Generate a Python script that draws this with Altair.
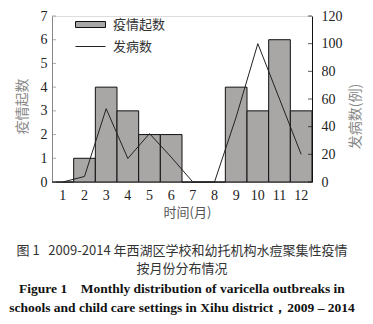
import altair as alt
import pandas as pd

months = list(range(1, 13))
outbreaks = [0, 1, 4, 3, 2, 2, 0, 0, 4, 3, 6, 3]
cases = [0, 4, 53, 17, 35, 18, 0, 0, 47, 100, 60, 20]
left_ticks = [0, 1, 2, 3, 4, 5, 6, 7]
right_ticks = [0, 20, 40, 60, 80, 100, 120]

df = pd.DataFrame({"month": months, "outbreaks": outbreaks, "cases": cases})
lt = pd.DataFrame({"v": left_ticks})
rt = pd.DataFrame({"v": right_ticks})

SERIF = "Liberation Serif"
CJK = "Noto Sans CJK SC"

xenc = alt.X("month:O", sort=months,
             scale=alt.Scale(paddingInner=0, paddingOuter=0),
             axis=alt.Axis(title="时间(月)", labelAngle=0, ticks=False,
                           labelFont=SERIF, labelFontSize=14, labelColor="#222",
                           labelPadding=6, domainColor="#999",
                           titleFont=CJK, titleFontSize=13, titleFontWeight="normal",
                           titleColor="#555", titlePadding=4, titleX=135))

left_axis = alt.Axis(title="疫情起数", values=left_ticks, ticks=False, grid=False,
                     labelFont=SERIF, labelFontSize=14, labelColor="#222",
                     labelPadding=5, domainColor="#888",
                     titleFont=CJK, titleFontSize=14, titleFontWeight="normal",
                     titleColor="#888", titleAngle=270, titleAlign="center",
                     titleBaseline="middle", titleX=-30, titleY=90)
right_axis = alt.Axis(title="发病数(例)", values=right_ticks, ticks=False, grid=False,
                      orient="right",
                      labelFont=SERIF, labelFontSize=14, labelColor="#222",
                      labelPadding=9, domainColor="#111",
                      titleFont=CJK, titleFontSize=14, titleFontWeight="normal",
                      titleColor="#888", titleAngle=270, titleAlign="center",
                      titleBaseline="middle", titleX=43, titleY=100)
left_scale = alt.Scale(domain=[0, 7], nice=False)
right_scale = alt.Scale(domain=[0, 120], nice=False)

bars = alt.Chart(df).transform_calculate(s="'疫情起数'").mark_bar(
    stroke="#111", strokeWidth=1
).encode(
    x=xenc,
    y=alt.Y("outbreaks:Q", scale=left_scale, axis=left_axis),
    fill=alt.Fill("s:N", scale=alt.Scale(range=["#a9a6a6"]),
                  legend=alt.Legend(title=None, orient="none", legendX=23, legendY=-7,
                                    symbolType="M-1,-0.2H1V0.2H-1Z", symbolSize=900,
                                    symbolStrokeColor="#111", symbolStrokeWidth=1,
                                    labelFont=CJK, labelFontSize=13, labelColor="#333",
                                    labelOffset=7, padding=0)),
)

lticks = alt.Chart(lt).mark_tick(color="#888", thickness=1, size=4).encode(
    y=alt.Y("v:Q", scale=left_scale, axis=left_axis),
    x=alt.value(2),
)

line = alt.Chart(df).transform_calculate(s="'发病数'").mark_line(
    strokeWidth=1
).encode(
    x=alt.X("month:O", sort=months),
    y=alt.Y("cases:Q", scale=right_scale, axis=right_axis),
    stroke=alt.Stroke("s:N", scale=alt.Scale(range=["#222"]),
                      legend=alt.Legend(title=None, orient="none", legendX=23, legendY=15,
                                        symbolType="stroke", symbolSize=900,
                                        symbolStrokeWidth=1,
                                        labelFont=CJK, labelFontSize=13, labelColor="#333",
                                        labelOffset=7, padding=0)),
)

rticks = alt.Chart(rt).mark_tick(color="#111", thickness=1, size=4).encode(
    y=alt.Y("v:Q", scale=right_scale, axis=right_axis),
    x=alt.value(258),
)

NB = "\u00a0"
chart = alt.layer(
    alt.layer(bars, lticks),
    alt.layer(line, rticks),
).resolve_scale(y="independent", fill="independent", stroke="independent").properties(
    width=260, height=166,
    padding={"left": 52, "top": 16, "right": 61, "bottom": 142},
    autosize=alt.AutoSizeParams(type="none"),
    title=alt.TitleParams(
        text=["图 1" + NB * 3 + "2009-2014 年西湖区学校和幼托机构水痘聚集性疫情", "按月份分布情况"],
        subtitle=["Figure 1" + NB * 4 + "Monthly distribution of varicella outbreaks in",
                  "schools and child care settings in Xihu district，2009 – 2014"],
        orient="bottom", anchor="middle", offset=26,
        font=CJK, fontSize=13, fontWeight="normal", color="#333", lineHeight=18,
        subtitleFont=SERIF, subtitleFontSize=13.5, subtitleFontWeight="bold",
        subtitleColor="#111", subtitleLineHeight=19, subtitlePadding=6,
    ),
).configure_view(stroke=None).configure(background="white")

chart.save("out.html", embed_options={"renderer": "svg", "actions": False})
